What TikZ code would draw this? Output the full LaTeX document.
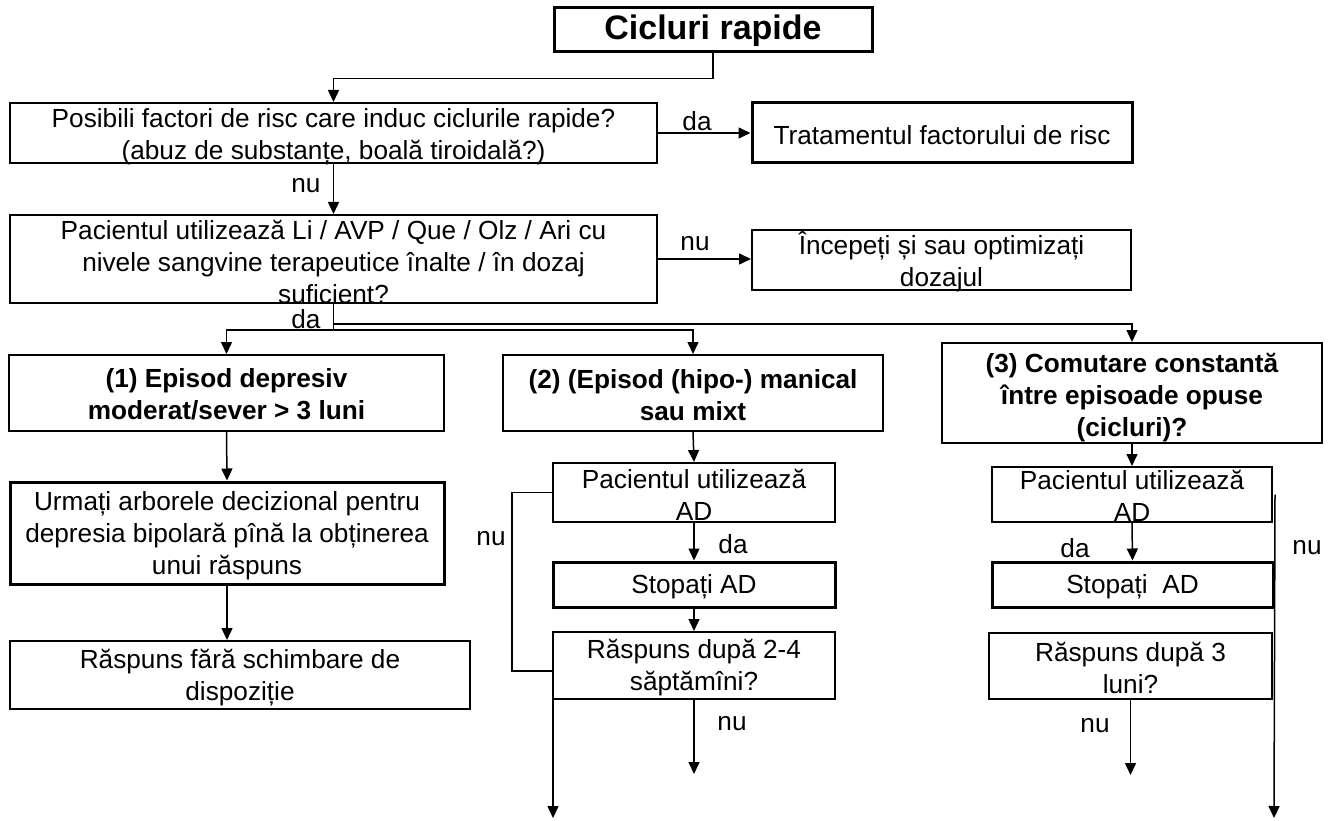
\documentclass[tikz,border=0pt]{standalone}
\usepackage{fontspec}
\setmainfont{Liberation Sans}
\usetikzlibrary{arrows.meta}
\begin{document}
\begin{tikzpicture}[x=1pt,y=-1pt,
  box/.style={draw, line width=2pt, inner sep=0pt},
  thickbox/.style={draw, line width=3pt, inner sep=0pt},
  txt/.style={align=center, inner sep=0pt, font=\fontsize{26.2}{32}\selectfont},
  btxt/.style={align=center, inner sep=0pt, font=\fontsize{26.2}{32}\selectfont\bfseries},
  ttl/.style={inner sep=0pt, font=\fontsize{34}{40}\selectfont\bfseries},
  lbl/.style={inner sep=0pt, font=\fontsize{26.2}{32}\selectfont},
  conn/.style={line width=1.5pt},
  arr/.style={conn, -{Triangle[length=12pt,width=11pt]}},
]
\useasboundingbox (0,0) rectangle (1336,821);
\fill[white] (0,0) rectangle (1336,821);

% ---- boxes ----
\node[thickbox, minimum width=318, minimum height=44] (T) at (713,30) {};
\node[ttl] at (713,31) {Cicluri rapide};

\node[box, minimum width=647, minimum height=60] (A) at (333.5,133) {};
\node[txt] at (333.5,136.5) {Posibili factori de risc care induc ciclurile rapide?\\(abuz de substanțe, boală tiroidală?)};

\node[thickbox, minimum width=380, minimum height=60] (B) at (942,133) {};
\node[txt] at (942,135) {Tratamentul factorului de risc};

\node[box, minimum width=647, minimum height=88] (C) at (333.5,259) {};
\node[txt] at (333.5,262) {Pacientul utilizează Li / AVP / Que / Olz / Ari cu\\nivele sangvine terapeutice înalte / în dozaj\\suficient?};

\node[box, minimum width=379, minimum height=60] (D) at (941.5,260) {};
\node[txt] at (941.5,262) {Începeți și sau optimizați\\dozajul};

\node[box, minimum width=435, minimum height=76] (P1) at (226.5,393) {};
\node[btxt] at (226.5,394) {(1) Episod depresiv\\moderat/sever > 3 luni};

\node[box, minimum width=380, minimum height=76] (P2) at (693,393) {};
\node[btxt] at (693,395) {(2) (Episod (hipo-) manical\\sau mixt};

\node[box, minimum width=380, minimum height=100] (P3) at (1132,393) {};
\node[btxt] at (1132,398) {(3) Comutare constantă\\între episoade opuse\\(cicluri)?};

\node[thickbox, minimum width=434, minimum height=102] (E) at (227,533) {};
\node[txt] at (227,536) {Urmați arborele decizional pentru\\depresia bipolară pînă la obținerea\\unui răspuns};

\node[box, minimum width=460, minimum height=68] (F) at (240,675) {};
\node[txt] at (240,678) {Răspuns fără schimbare de\\dispoziție};

\node[box, minimum width=282, minimum height=59] (G) at (694,492.5) {};
\node[txt] at (694,495) {Pacientul utilizează\\AD};

\node[thickbox, minimum width=282, minimum height=45] (H) at (694,584.5) {};
\node[txt] at (694,587) {Stopați AD};

\node[box, minimum width=282, minimum height=67] (I) at (694,665.5) {};
\node[txt] at (694,668) {Răspuns după 2-4\\săptămîni?};

\node[box, minimum width=280, minimum height=55] (J) at (1132,494.5) {};
\node[txt] at (1132,496) {Pacientul utilizează\\AD};

\node[thickbox, minimum width=281, minimum height=45] (K) at (1132.5,584.5) {};
\node[txt] at (1132.5,586.5) {Stopați~~AD};

\node[box, minimum width=283, minimum height=66] (L) at (1130.5,666) {};
\node[txt] at (1130.5,668) {Răspuns după 3\\luni?};

% ---- connectors ----
\draw[arr] (T.south) -- ++(0,25) -| (A.north);
\draw[arr] (A.east) -- (B.west);
\draw[arr] (A.south) -- (C.north);
\draw[arr] (C.east) -- (C.east -| D.west);

\coordinate (fork) at (333.5,330);
\draw[conn] (C.south) -- (fork);
\draw[arr] (fork) -| (P1.north);
\draw[arr] (fork) -| (P2.north);
\draw[arr] (C.south) ++(0,20) -| (P3.north);

\draw[arr] (P1.south) -- (E.north);
\draw[arr] (E.south) -- (E.south |- F.north);

\draw[arr] (P2.south) -- (G.north);
\draw[arr] (G.south) -- (H.north);
\draw[arr] (H.south) -- (I.north);
\draw[arr] (I.south) -- ++(0,74);
\coordinate (loopL) at (553,671);
\coordinate (endL) at (553,818);
\draw[arr] (G.west) -- ++(-40,0) |- (loopL) -- (endL);

\draw[arr] (P3.south) -- (J.north);
\draw[arr] (J.south) -- (K.north);
\draw[arr] (L.south) -- ++(0,75);
\coordinate (endR) at (1274,818);
\draw[arr] (J.east) ++(2,0) -- (endR);

% ---- branch labels ----
\node[lbl] at (697,121) {da};
\node[lbl] at (306,186) {nu};
\node[lbl] at (695,244) {nu};
\node[lbl] at (306,319) {da};
\node[lbl] at (491,539) {nu};
\node[lbl] at (733,544) {da};
\node[lbl] at (732,724) {nu};
\node[lbl] at (1075,548) {da};
\node[lbl] at (1307,548) {nu};
\node[lbl] at (1095,726) {nu};
\end{tikzpicture}
\end{document}
